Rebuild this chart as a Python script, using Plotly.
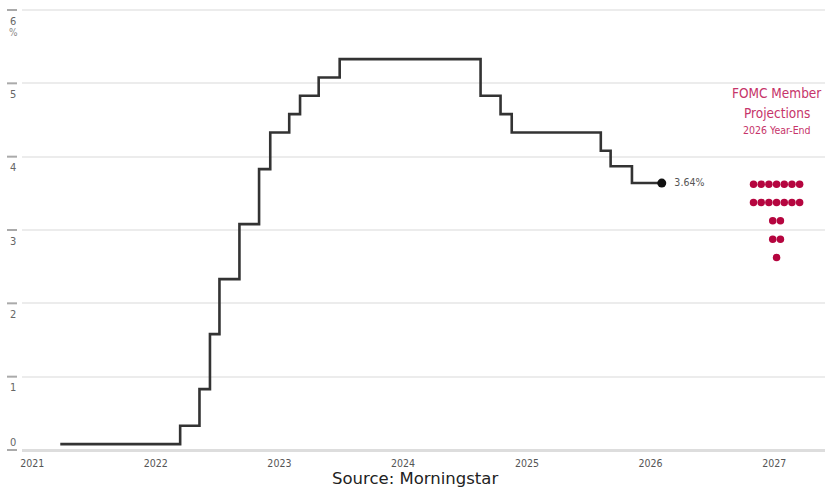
import plotly.graph_objects as go
import pandas as pd

# ---- data ----
step_dates = ["2021-03-25", "2022-03-14", "2022-05-10", "2022-06-10", "2022-07-08",
              "2022-09-05", "2022-11-02", "2022-12-05", "2023-01-30", "2023-03-03",
              "2023-04-27", "2023-06-28", "2024-08-17", "2024-10-15", "2024-11-17",
              "2025-08-07", "2025-09-05", "2025-11-07", "2026-02-03"]
step_rates = [0.08, 0.33, 0.83, 1.58, 2.33, 3.08, 3.83, 4.33, 4.58, 4.83,
              5.08, 5.33, 4.83, 4.58, 4.33, 4.08, 3.87, 3.64, 3.64]
last_label = "3.64%"

dot_values = [3.625, 3.375, 3.125, 2.875, 2.625]
dot_counts = [7, 7, 2, 2, 1]
dot_center = "2027-01-08"

y_ticks = [0, 1, 2, 3, 4, 5, 6]
x_tick_years = ["2021", "2022", "2023", "2024", "2025", "2026", "2027"]

proj_title = ["FOMC Member", "Projections"]
proj_sub = "2026 Year-End"
source_text = "Source: Morningstar"

# ---- style ----
W, H = 825, 491
ML, MR, MT, MB = 22, 0, 8, 36
plot_w = W - ML - MR
plot_h = H - MT - MB
px_per_unit = 73.33
y_lo = -5 / px_per_unit
y_hi = 6 + 2 / px_per_unit

cond = "DejaVu Sans Condensed, Liberation Sans Narrow, Arial Narrow, sans-serif"
crimson = "#b5053f"
title_col = "#c6346a"

fig = go.Figure()

fig.add_trace(go.Scatter(
    x=step_dates, y=step_rates, mode="lines", line_shape="hv",
    line=dict(color="#333333", width=2.6), hoverinfo="skip", showlegend=False))

fig.add_trace(go.Scatter(
    x=[step_dates[-1]], y=[step_rates[-1]], mode="markers+text",
    marker=dict(color="#111111", size=9), text=["  " + last_label],
    textposition="middle right", textfont=dict(family=cond, size=10.5, color="#555555"),
    showlegend=False))

# dot plot
spacing_days = 22.7
cx = pd.Timestamp(dot_center)
dx, dy = [], []
for v, n in zip(dot_values, dot_counts):
    for i in range(n):
        off = (i - (n - 1) / 2) * spacing_days
        dx.append(cx + pd.Timedelta(days=off))
        dy.append(v)
fig.add_trace(go.Scatter(x=dx, y=dy, mode="markers",
                         marker=dict(color=crimson, size=7.5), showlegend=False))

annotations = []
for t in y_ticks:
    annotations.append(dict(
        x=-9 / plot_w, xref="paper", y=t, yref="y", text=str(t), showarrow=False,
        yshift=(8 if t == 0 else -11), font=dict(family=cond, size=11, color="#666666"),
        xanchor="center", yanchor="middle"))
annotations.append(dict(
    x=-9 / plot_w, xref="paper", y=6, yref="y", text="%", showarrow=False, yshift=-22,
    font=dict(family=cond, size=10, color="#888888"), xanchor="center", yanchor="middle"))

annotations.append(dict(x=dot_center, y=5.0, xref="x", yref="y", text=proj_title[0],
                        showarrow=False, yanchor="middle", xanchor="center", yshift=-10,
                        font=dict(family=cond, size=13.5, color=title_col)))
annotations.append(dict(x=dot_center, y=4.75, xref="x", yref="y", text=proj_title[1],
                        showarrow=False, yanchor="middle", xanchor="center", yshift=-11,
                        font=dict(family=cond, size=13.5, color=title_col)))
annotations.append(dict(x=dot_center, y=4.5, xref="x", yref="y", text=proj_sub,
                        showarrow=False, yanchor="middle", xanchor="center", yshift=-10,
                        font=dict(family=cond, size=10.5, color=title_col)))
annotations.append(dict(x=(415 - ML) / plot_w, y=-(479 - MT - plot_h) / plot_h, xref="paper", yref="paper",
                        text=source_text, showarrow=False, xanchor="center", yanchor="middle",
                        font=dict(family="DejaVu Sans, sans-serif", size=16.5, color="#222222")))

shapes = []
for t in y_ticks:
    shapes.append(dict(type="line", xref="paper", yref="y",
                       x0=-15 / plot_w, x1=-5 / plot_w, y0=t, y1=t,
                       line=dict(color="#aaaaaa", width=2)))

fig.update_layout(
    width=W, height=H, margin=dict(l=ML, r=MR, t=MT, b=MB),
    paper_bgcolor="white", plot_bgcolor="white",
    annotations=annotations, shapes=shapes, hovermode=False,
    xaxis=dict(type="date", range=["2020-12-02", "2027-05-31"],
               tickvals=[y + "-01-01" for y in x_tick_years], ticktext=x_tick_years,
               showgrid=False, zeroline=False, showline=False, ticks="",
               tickfont=dict(family=cond, size=10.5, color="#555555")),
    yaxis=dict(range=[y_lo, y_hi], tickvals=y_ticks[1:], showticklabels=False,
               showgrid=True, gridcolor="#ececec", gridwidth=2,
               zeroline=True, zerolinecolor="#dddddd", zerolinewidth=3,
               showline=False, ticks=""),
)

fig.write_html("out.html", config={"displayModeBar": False},
               post_script="document.body.style.margin='0';document.body.style.overflow='hidden';")
